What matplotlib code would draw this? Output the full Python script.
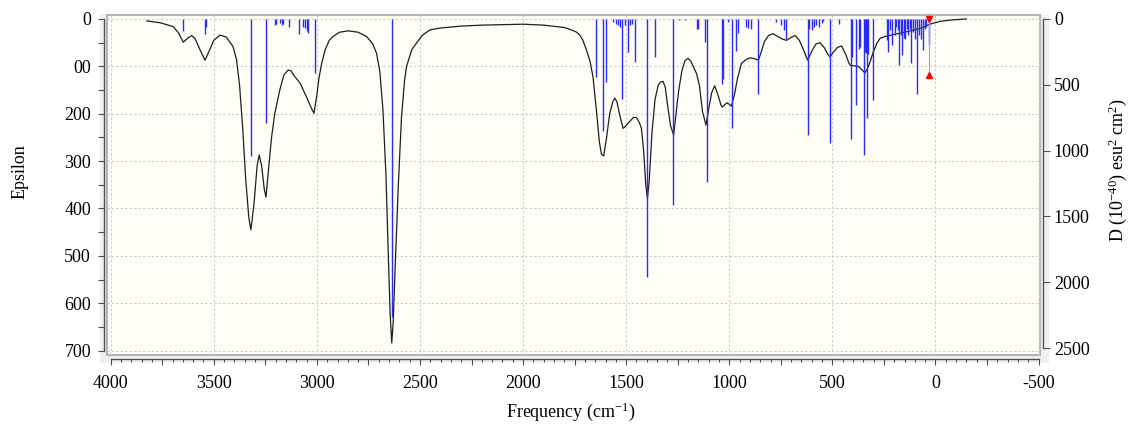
import numpy as np
import matplotlib
matplotlib.use('Agg')
import matplotlib.pyplot as plt
from matplotlib.patches import Rectangle
from matplotlib.ticker import MultipleLocator, FixedLocator, FixedFormatter, FuncFormatter

plt.rcParams['font.family'] = ['Liberation Serif', 'DejaVu Serif']
plt.rcParams['mathtext.fontset'] = 'custom'
plt.rcParams['mathtext.rm'] = 'Liberation Serif'
plt.rcParams['mathtext.it'] = 'Liberation Serif:italic'
plt.rcParams['axes.unicode_minus'] = False

# broadened spectrum: frequency (cm-1) / epsilon
curve_freq = [3825, 3760, 3697, 3670, 3648, 3625, 3607, 3590, 3570, 3543, 3525, 3500, 3470, 3440, 3407,
              3390, 3375, 3360, 3345, 3330, 3320, 3305, 3290, 3280, 3268, 3255, 3247, 3235, 3220, 3204,
              3180, 3160, 3140, 3126, 3110, 3082, 3050, 3025, 3014, 3000, 2990, 2977, 2960, 2940, 2922,
              2890, 2848, 2800, 2759, 2730, 2711, 2695, 2680, 2665, 2655, 2645, 2637, 2630, 2620, 2605,
              2590, 2575, 2565, 2540, 2517, 2490, 2452, 2400, 2300, 2200, 2100, 2000, 1900, 1800, 1760,
              1740, 1725, 1710, 1693, 1675, 1661, 1645, 1630, 1620, 1609, 1595, 1580, 1565, 1555, 1545,
              1530, 1515, 1500, 1480, 1465, 1450, 1435, 1426, 1415, 1405, 1397, 1388, 1375, 1360, 1345,
              1333, 1321, 1310, 1300, 1285, 1270, 1258, 1245, 1230, 1215, 1200, 1185, 1170, 1159, 1145,
              1130, 1113, 1100, 1085, 1071, 1055, 1040, 1034, 1020, 1011, 1000, 990, 975, 960, 941,
              920, 900, 876, 859, 845, 830, 810, 789, 765, 740, 722, 700, 681, 660, 640,
              620, 600, 580, 560, 540, 525, 512, 495, 475, 455, 435, 420, 412, 395, 374,
              355, 342, 330, 315, 302, 285, 269, 245, 205, 140, 75, 27, -22, -80, -149]
curve_eps = [4, 8, 16, 30, 49, 40, 35, 42, 62, 87, 70, 45, 34, 38, 58,
             85, 140, 230, 340, 420, 445, 390, 310, 287, 310, 360, 376, 320, 250, 199,
             150, 118, 108, 109, 120, 135, 165, 190, 199, 160, 125, 94, 65, 45, 37,
             28, 25, 28, 37, 52, 72, 110, 190, 330, 480, 620, 684, 640, 520, 350,
             210, 130, 100, 65, 51, 35, 23, 19, 15, 13, 12, 11, 13, 18, 24,
             28, 34, 45, 65, 90, 122, 190, 260, 285, 289, 250, 200, 175, 167, 175,
             205, 231, 225, 215, 208, 208, 220, 231, 280, 350, 379, 340, 240, 170, 140,
             133, 132, 145, 180, 225, 245, 200, 150, 110, 88, 83, 90, 105, 115, 140,
             195, 224, 190, 155, 141, 160, 182, 186, 180, 177, 180, 184, 160, 125, 94,
             86, 82, 84, 87, 70, 48, 35, 31, 37, 43, 45, 39, 35, 45, 65,
             87, 68, 53, 50, 60, 72, 80, 70, 60, 57, 75, 93, 98, 99, 100,
             108, 114, 105, 88, 70, 52, 41, 37, 33, 27, 20, 11, 5, 2, 0]

# computed transitions: frequency (cm-1) / D (10^-40 esu^2 cm^2)
stick_freq = [3648, 3545, 3540, 3320, 3247, 3203, 3198, 3179, 3171, 3163, 3134, 3086, 3068, 3058, 3050,
              3042, 3010, 2637,
              1644, 1612, 1596, 1566, 1547, 1540, 1530, 1518, 1505, 1490, 1482, 1474, 1458, 1400,
              1360, 1272, 1245, 1215, 1158, 1150, 1118, 1110, 1037, 1032, 1008, 989, 965, 958,
              920, 908, 896, 859, 771, 747, 735, 723, 620, 612, 600, 590, 580, 565, 550, 545,
              511, 468, 412, 403, 383, 372, 365, 349, 343, 338, 333, 327, 302,
              237, 229, 222, 213, 197, 190, 183, 175, 165, 160, 155, 148, 140, 133, 125, 119,
              110, 100, 88, 80, 72, 60, 50, 44, 32]
stick_d = [91, 116, 58, 1039, 793, 46, 40, 30, 46, 35, 63, 116, 63, 71, 89,
           109, 408, 2262,
           441, 849, 479, 23, 36, 48, 61, 606, 48, 251, 48, 36, 327, 1960,
           289, 1414, 10, 8, 73, 73, 175, 1241, 491, 454, 23, 831, 240, 110,
           61, 70, 75, 568, 23, 48, 86, 149, 882, 73, 84, 60, 48, 60, 30, 15,
           940, 35, 914, 289, 650, 226, 210, 1034, 251, 260, 750, 264, 612,
           160, 248, 84, 200, 124, 60, 84, 350, 124, 276, 148, 150, 80, 120, 80, 332,
           100, 150, 567, 120, 150, 238, 80, 60, 188]

# selected transition markers
sel_freq = 32
sel_top = 0
sel_bottom = 428

x_ticks = list(range(-500, 4001, 500))
eps_ticks = list(range(0, 701, 100))
eps_labels = ['0', '00', '200', '300', '400', '500', '600', '700']
d_ticks = list(range(0, 2501, 500))

W, H = 1130, 425
fig = plt.figure(figsize=(W / 100, H / 100), dpi=100)


def box(x0, y0, x1, y1):
    # pixel box (from top-left) -> figure fraction
    return [x0 / W, 1 - y1 / H, (x1 - x0) / W, (y1 - y0) / H]


fig.patches.append(Rectangle((100 / W, 1 - 363 / H), 949 / W, 348 / H, transform=fig.transFigure,
                             facecolor='#f0f0f0', edgecolor='none', zorder=-10))

ax = fig.add_axes(box(107, 15, 1040, 355))
ax.set_facecolor('#fefef6')
ax.patch.set_edgecolor('#b4b4b4')
ax.patch.set_linewidth(1.5)
ax.set_xlim(4018, -507)
ax.set_ylim(709.3, -8.4)

for v in x_ticks:
    ax.axvline(v, color='#cccccc', lw=0.8, ls=(0, (2, 2)), zorder=0.5)
for e in eps_ticks:
    ax.axhline(e, color='#cccccc', lw=0.8, ls=(0, (2, 2)), zorder=0.5)

ax.plot(curve_freq, curve_eps, color='#1e1e1e', lw=0.9)

ax2 = ax.twinx()
ax2.set_ylim(2553, -30)
ax2.vlines(stick_freq, 0, stick_d, color='#2a2aff', lw=1.0)
ax2.vlines([sel_freq], sel_top, sel_bottom, color='#9a9aff', lw=0.8)
ax2.plot([sel_freq], [sel_top], marker='v', color='red', ms=4, clip_on=False)
ax2.plot([sel_freq], [sel_bottom], marker='^', color='red', ms=4, clip_on=False)

# axes lines
for s in ['top', 'right']:
    ax.spines[s].set_visible(False)
ax.spines['left'].set_position(('outward', 2))
ax.spines['left'].set_bounds(0, 700)
ax.spines['bottom'].set_position(('outward', 3))
ax.spines['bottom'].set_bounds(-500, 4000)
for s in ['top', 'left', 'bottom']:
    ax2.spines[s].set_visible(False)
ax2.spines['right'].set_position(('outward', 2))
ax2.spines['right'].set_bounds(0, 2500)
for sp in [ax.spines['left'], ax.spines['bottom'], ax2.spines['right']]:
    sp.set_color('#505050')
    sp.set_linewidth(1.0)

ax.xaxis.set_major_locator(MultipleLocator(250))
ax.xaxis.set_minor_locator(MultipleLocator(50))
ax.xaxis.set_major_formatter(FuncFormatter(lambda v, p: f'{v:.0f}' if v % 500 == 0 else ''))
ax.tick_params(axis='x', which='major', length=4.5, width=0.8, pad=7, labelsize=13, color='#505050')
ax.tick_params(axis='x', which='minor', length=2.5, width=0.8, color='#505050')

ax.yaxis.set_major_locator(FixedLocator(eps_ticks))
ax.yaxis.set_major_formatter(FixedFormatter(eps_labels))
ax.yaxis.set_minor_locator(MultipleLocator(50))
ax.tick_params(axis='y', which='both', length=4.5, width=0.8, pad=5, labelsize=13, color='#505050')

ax2.set_yticks(d_ticks)
ax2.tick_params(axis='y', which='major', length=5, width=0.8, pad=3, labelsize=13, color='#505050')

fig.text(20 / W, 1 - 172 / H, 'Epsilon', rotation=90, ha='center', va='center', fontsize=13)
fig.text(571 / W, 1 - 412 / H, 'Frequency (cm$^{-1}$)', ha='center', va='center', fontsize=13)
fig.text(1118 / W, 1 - 170 / H, 'D (10$^{-40}$) esu$^2$ cm$^2$)', rotation=90, ha='center', va='center',
         fontsize=13)

fig.savefig('out.png', dpi=100)
